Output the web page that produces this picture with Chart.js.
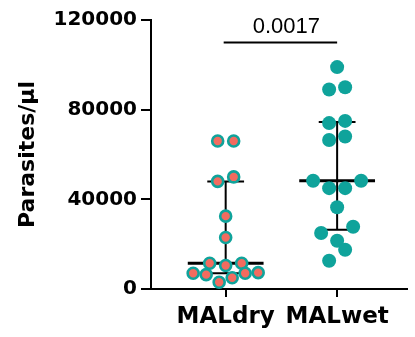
<!DOCTYPE html>
<html><head><meta charset="utf-8">
<script src="https://cdn.jsdelivr.net/npm/chart.js@4.4.1/dist/chart.umd.min.js"></script>
<style>html,body{margin:0;padding:0;background:#fff}#wrap{width:415px;height:337px;position:relative}</style>
</head><body><div id="wrap"><canvas id="c"></canvas></div>
<script>
// ---- data ----
const categories = ['MALdry', 'MALwet'];
const malDry = [66000, 66000, 48000, 50000, 32500, 23000, 11500, 10500, 11500, 7000, 6400, 7000, 7300, 5000, 3000];
const malWet = [99000, 89000, 90000, 75000, 74000, 66500, 68000, 48300, 48300, 45000, 45000, 36500, 25000, 27800, 21500, 17500, 12600];
const yTicks = [0, 40000, 80000, 120000];
const yTitle = 'Parasites/\u03bcl';
const pValueLabel = '0.0017';
const bracketLevel = [110000];

const teal = '#0fa39b', salmon = '#f26b5f';
const BOLD = '"DejaVu Sans", sans-serif';

function quantile(vals, p) {
  const s = [...vals].sort((a, b) => a - b);
  const pos = (s.length + 1) * p;
  const lo = Math.floor(pos), fr = pos - lo;
  const a = s[Math.max(0, Math.min(s.length - 1, lo - 1))];
  const b = s[Math.max(0, Math.min(s.length - 1, lo))];
  return a + (b - a) * fr;
}

const groups = [malDry, malWet];

const errorPlugin = {
  id: 'errbars',
  beforeDatasetsDraw(chart) {
    const { ctx, scales: { x, y } } = chart;
    groups.forEach((vals, i) => {
      const c = i + 1;
      const q1 = quantile(vals, 0.25), med = quantile(vals, 0.5), q3 = quantile(vals, 0.75);
      const cx = x.getPixelForValue(c);
      const capL = x.getPixelForValue(c - 0.165), capR = x.getPixelForValue(c + 0.165);
      const mL = x.getPixelForValue(c - 0.34), mR = x.getPixelForValue(c + 0.34);
      ctx.save();
      ctx.strokeStyle = '#000';
      ctx.lineWidth = 2;
      ctx.beginPath();
      ctx.moveTo(cx, y.getPixelForValue(q1)); ctx.lineTo(cx, y.getPixelForValue(q3));
      ctx.moveTo(capL, y.getPixelForValue(q1)); ctx.lineTo(capR, y.getPixelForValue(q1));
      ctx.moveTo(capL, y.getPixelForValue(q3)); ctx.lineTo(capR, y.getPixelForValue(q3));
      ctx.stroke();
      ctx.lineWidth = 3;
      ctx.beginPath();
      ctx.moveTo(mL, y.getPixelForValue(med)); ctx.lineTo(mR, y.getPixelForValue(med));
      ctx.stroke();
      ctx.restore();
    });
  },
  afterDraw(chart) {
    const { ctx, scales: { x, y } } = chart;
    const yb = y.getPixelForValue(bracketLevel[0]);
    const x1 = x.getPixelForValue(1) - 2, x2 = x.getPixelForValue(2);
    ctx.save();
    ctx.strokeStyle = '#000';
    ctx.lineWidth = 2;
    ctx.beginPath(); ctx.moveTo(x1, yb); ctx.lineTo(x2, yb); ctx.stroke();
    ctx.fillStyle = '#000';
    ctx.font = '22px "Liberation Sans", Arial, sans-serif';
    ctx.textAlign = 'center';
    ctx.textBaseline = 'alphabetic';
    ctx.fillText(pValueLabel, (x1 + x2) / 2 + 6, yb - 9);
    ctx.restore();
  }
};

const chart = new Chart(document.getElementById('c'), {
  type: 'scatter',
  data: {
    datasets: [
      { label: categories[0], data: malDry.map(v => ({ x: 1, y: v })), backgroundColor: salmon, borderColor: teal,
        borderWidth: 2.6, pointRadius: 5.5, pointHoverRadius: 5.5, clip: false },
      { label: categories[1], data: malWet.map(v => ({ x: 2, y: v })), backgroundColor: teal, borderColor: teal,
        borderWidth: 0, pointRadius: 7, pointHoverRadius: 7, clip: false }
    ]
  },
  options: {
    responsive: true, maintainAspectRatio: false, animation: false,
    layout: { padding: { top: 20, right: 0, left: 0, bottom: 0 } },
    plugins: { legend: { display: false }, tooltip: { enabled: false } },
    events: [],
    scales: {
      x: {
        type: 'linear', min: 0.33, max: 2.626,
        afterBuildTicks: s => { s.ticks = categories.map((c, i) => ({ value: i + 1 })); },
        ticks: { callback: v => categories[Math.round(v) - 1] ?? '', color: '#000',
                 font: { family: BOLD, size: 23, weight: 'bold' }, padding: 6, maxRotation: 0, autoSkip: false },
        grid: { drawOnChartArea: false, color: '#000', lineWidth: 2, tickLength: 8 },
        border: { color: '#000', width: 2 },
        afterFit: s => { s.height = 48; }
      },
      y: {
        min: 0, max: 120000,
        afterBuildTicks: s => { s.ticks = yTicks.map(v => ({ value: v })); },
        ticks: { color: '#000', font: { family: BOLD, size: 20, weight: 'bold' }, padding: 4, callback: v => String(v) },
        grid: { drawOnChartArea: false, color: '#000', lineWidth: 2, tickLength: 10 },
        border: { color: '#000', width: 2 },
        title: { display: true, text: yTitle, color: '#000', font: { family: BOLD, size: 22, weight: 'bold' },
                 padding: { top: 15, bottom: 0 } },
        afterFit: s => { s.width = 151; }
      }
    }
  },
  plugins: [errorPlugin]
});

// scatter-dot layout: points are grouped into rows (bottom-up) and spread centre-out within each row
function rowLayout(values, center, xs, ys, rowH, gap, maxSpan) {
  const unit = xs.getPixelForValue(2) - xs.getPixelForValue(1);
  const items = values.map((v, i) => ({ i, py: ys.getPixelForValue(v) }))
                      .sort((a, b) => b.py - a.py || a.i - b.i);
  const rows = [];
  let cur = null;
  for (const it of items) {
    if (!cur || cur.start - it.py > rowH) { cur = { start: it.py, items: [] }; rows.push(cur); }
    cur.items.push(it);
  }
  const out = new Array(values.length);
  rows.forEach(r => {
    const n = r.items.length;
    const sp = n > 1 ? Math.min(gap, maxSpan / (n - 1)) : 0;
    const slots = Array.from({ length: n }, (_, k) => (k - (n - 1) / 2) * sp);
    const order = slots.map((s, k) => k)
                       .sort((a, b) => Math.abs(slots[a]) - Math.abs(slots[b]) || slots[a] - slots[b]);
    r.items.forEach((it, j) => { out[it.i] = center + slots[order[j]] / unit; });
  });
  return out;
}

const xs = chart.scales.x, ys = chart.scales.y;
groups.forEach((vals, gi) => {
  const xl = rowLayout(vals, gi + 1, xs, ys, 15, 16, 65);
  chart.data.datasets[gi].data = vals.map((v, k) => ({ x: xl[k], y: v }));
});
chart.update();
</script>
</body></html>
